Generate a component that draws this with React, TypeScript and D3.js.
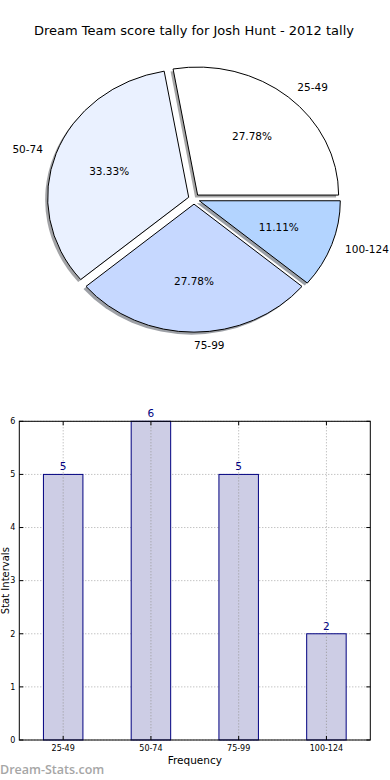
import React from 'react';
import * as d3 from 'd3';

const title = 'Dream Team score tally for Josh Hunt - 2012 tally';
const intervals = ['25-49', '50-74', '75-99', '100-124'];
const counts = [5, 6, 5, 2];
const sliceColors = ['#ffffff', '#eaf1ff', '#c6d8ff', '#b3d4ff'];
const yTicks = [0, 1, 2, 3, 4, 5, 6];

const W = 390;
const H = 780;

// pie geometry (matplotlib pie without equal aspect -> ellipse)
const pieCx = 194;
const pieCy = 199;
const rx = 141;
const ry = 128;
const explode = 0.04;

// bar axes box
const box = { left: 19.3, right: 370.3, top: 421.3, bottom: 740 };

const shade = (c: string) => {
  const rgb = d3.rgb(c);
  return d3.rgb(rgb.r * 0.3, rgb.g * 0.3, rgb.b * 0.3).toString();
};

const PieChart = () => {
  const total = d3.sum(counts);
  const pie = d3.pie<number>().sort(null).startAngle(Math.PI / 2).endAngle(Math.PI / 2 - 2 * Math.PI);
  const arcs = pie(counts);
  const arc = d3.arc<d3.PieArcDatum<number>>().innerRadius(0).outerRadius(1);

  return (
    <g>
      {arcs.map((a, i) => {
        const m = (a.startAngle + a.endAngle) / 2;
        const dx = explode * rx * Math.sin(m);
        const dy = -explode * ry * Math.cos(m);
        return (
          <path
            key={'s' + i}
            d={arc(a) || ''}
            transform={`translate(${pieCx + dx - 2.5},${pieCy + dy + 2.5}) scale(${rx},${ry})`}
            fill={shade(sliceColors[i])}
            fillOpacity={0.5}
            stroke="none"
          />
        );
      })}
      {arcs.map((a, i) => {
        const m = (a.startAngle + a.endAngle) / 2;
        const sx = Math.sin(m);
        const cy = -Math.cos(m);
        const ox = pieCx + explode * rx * sx;
        const oy = pieCy + explode * ry * cy;
        const pct = ((counts[i] / total) * 100).toFixed(2) + '%';
        return (
          <g key={'p' + i}>
            <path
              d={arc(a) || ''}
              transform={`translate(${ox},${oy}) scale(${rx},${ry})`}
              fill={sliceColors[i]}
              stroke="#000"
              strokeWidth={1}
              vectorEffect="non-scaling-stroke"
            />
            <text
              x={ox + 1.1 * rx * sx}
              y={oy + 1.1 * ry * cy}
              dy="0.35em"
              textAnchor={sx >= -1e-9 ? 'start' : 'end'}
              fontSize={10.5}
            >
              {intervals[i]}
            </text>
            <text
              x={ox + 0.6 * rx * sx}
              y={oy + 0.6 * ry * cy}
              dy="0.35em"
              textAnchor="middle"
              fontSize={10.5}
            >
              {pct}
            </text>
          </g>
        );
      })}
    </g>
  );
};

const BarChart = () => {
  const x = d3.scaleLinear().domain([-0.5, intervals.length - 0.5]).range([box.left, box.right]);
  const y = d3.scaleLinear().domain([0, 6]).range([box.bottom, box.top]);
  const bw = x(0.45) - x(0);
  const idx = d3.range(intervals.length);

  return (
    <g>
      {/* grid */}
      {yTicks.map(t => (
        <line key={'gy' + t} x1={box.left} x2={box.right} y1={y(t)} y2={y(t)}
          stroke="#aaa" strokeDasharray="1,2" />
      ))}
      {idx.map(i => (
        <line key={'gx' + i} x1={x(i)} x2={x(i)} y1={box.top} y2={box.bottom}
          stroke="#aaa" strokeDasharray="1,2" />
      ))}
      {/* bars */}
      {counts.map((v, i) => (
        <g key={'b' + i}>
          <rect x={x(i) - bw / 2} y={y(v)} width={bw} height={y(0) - y(v)}
            fill="#cdcde5" stroke="#000080" strokeWidth={1} />
          <line x1={x(i)} x2={x(i)} y1={y(v)} y2={box.bottom} stroke="#999" strokeDasharray="1,2" />
          <text x={x(i)} y={y(v) - 4} textAnchor="middle" fontSize={10.5} fill="#000080">{v}</text>
        </g>
      ))}
      {/* frame */}
      <rect x={box.left} y={box.top} width={box.right - box.left} height={box.bottom - box.top}
        fill="none" stroke="#000" strokeWidth={1} />
      {/* ticks */}
      {yTicks.map(t => (
        <g key={'ty' + t}>
          <line x1={box.left} x2={box.left + 4} y1={y(t)} y2={y(t)} stroke="#000" />
          <line x1={box.right - 4} x2={box.right} y1={y(t)} y2={y(t)} stroke="#000" />
          <text x={box.left - 4} y={y(t)} dy="0.35em" textAnchor="end" fontSize={8}>{t}</text>
        </g>
      ))}
      {idx.map(i => (
        <g key={'tx' + i}>
          <line x1={x(i)} x2={x(i)} y1={box.bottom} y2={box.bottom - 4} stroke="#000" />
          <line x1={x(i)} x2={x(i)} y1={box.top} y2={box.top + 4} stroke="#000" />
          <text x={x(i)} y={box.bottom + 11} textAnchor="middle" fontSize={8}>{intervals[i]}</text>
        </g>
      ))}
      <text x={(box.left + box.right) / 2} y={box.bottom + 24} textAnchor="middle" fontSize={10.5}>Frequency</text>
      <text transform={`translate(8.5,${(box.top + box.bottom) / 2}) rotate(-90)`} textAnchor="middle" fontSize={10}>
        Stat Intervals
      </text>
    </g>
  );
};

const App = () => (
  <svg width={W} height={H} viewBox={`0 0 ${W} ${H}`}
    style={{ position: 'absolute', left: 0, top: 0, background: '#fff', fontFamily: 'DejaVu Sans' }}>
    <rect width={W} height={H} fill="#fff" />
    <text x={194} y={35} textAnchor="middle" fontSize={13}>{title}</text>
    <PieChart />
    <BarChart />
    <text x={0} y={774} fontSize={12.5} fontWeight={600} fontFamily="Open Sans" fill="#a6a6a6">Dream-Stats.com</text>
  </svg>
);

export default App;
